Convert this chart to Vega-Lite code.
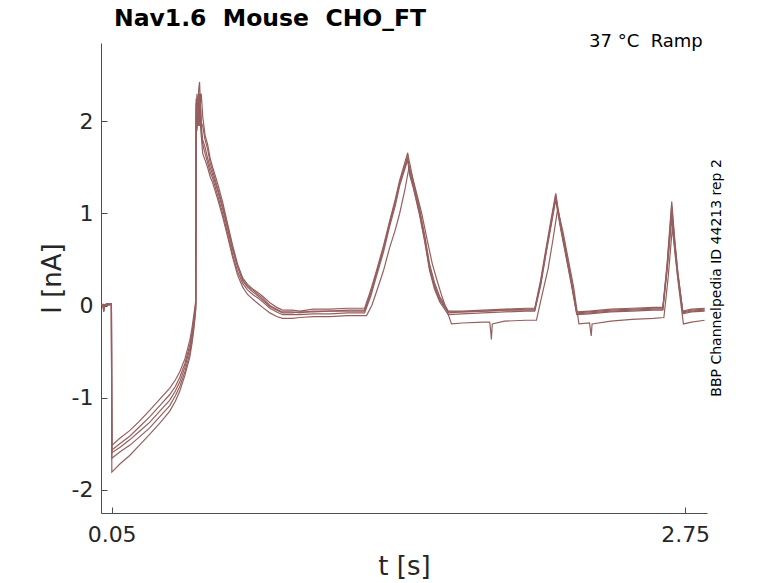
{
  "$schema": "https://vega.github.io/schema/vega-lite/v6.json",
  "width": 606,
  "height": 470,
  "autosize": "none",
  "padding": {"left": 101, "top": 43, "right": 71, "bottom": 70},
  "background": "white",
  "config": {"view": {"stroke": null}, "font": "DejaVu Sans"},
  "title": {
    "text": "Nav1.6\u00a0 Mouse\u00a0 CHO_FT",
    "anchor": "start",
    "frame": "group",
    "dx": 13,
    "offset": -17,
    "baseline": "alphabetic",
    "fontSize": 23.5,
    "fontWeight": "bold",
    "color": "#000000"
  },
  "layer": [
    {
      "data": {"values": [
        {"s":"A","t":0.003,"I":0.01},{"s":"A","t":0.010,"I":-0.01},{"s":"A","t":0.013,"I":-0.05},{"s":"A","t":0.016,"I":0.01},{"s":"A","t":0.030,"I":0.02},{"s":"A","t":0.049,"I":0.02},
        {"s":"A","t":0.051,"I":-1.52},{"s":"A","t":0.090,"I":-1.44},{"s":"A","t":0.135,"I":-1.36},{"s":"A","t":0.180,"I":-1.26},{"s":"A","t":0.229,"I":-1.14},{"s":"A","t":0.280,"I":-1.01},{"s":"A","t":0.323,"I":-0.90},{"s":"A","t":0.350,"I":-0.81},{"s":"A","t":0.371,"I":-0.72},{"s":"A","t":0.395,"I":-0.58},{"s":"A","t":0.418,"I":-0.38},{"s":"A","t":0.428,"I":-0.25},{"s":"A","t":0.436,"I":-0.12},{"s":"A","t":0.442,"I":-0.02},{"s":"A","t":0.446,"I":0.05},
        {"s":"A","t":0.448,"I":2.05},{"s":"A","t":0.452,"I":1.9},{"s":"A","t":0.455,"I":2.0},{"s":"A","t":0.460,"I":2.2},{"s":"A","t":0.465,"I":1.95},{"s":"A","t":0.469,"I":2.15},{"s":"A","t":0.474,"I":1.9},{"s":"A","t":0.479,"I":1.8},{"s":"A","t":0.490,"I":1.72},{"s":"A","t":0.502,"I":1.6},{"s":"A","t":0.514,"I":1.5},{"s":"A","t":0.526,"I":1.42},{"s":"A","t":0.550,"I":1.24},{"s":"A","t":0.573,"I":1.05},{"s":"A","t":0.597,"I":0.82},{"s":"A","t":0.620,"I":0.6},{"s":"A","t":0.643,"I":0.42},{"s":"A","t":0.667,"I":0.28},{"s":"A","t":0.690,"I":0.21},{"s":"A","t":0.714,"I":0.17},{"s":"A","t":0.740,"I":0.12},{"s":"A","t":0.761,"I":0.08},{"s":"A","t":0.795,"I":0.0},{"s":"A","t":0.827,"I":-0.04},{"s":"A","t":0.855,"I":-0.07},{"s":"A","t":0.900,"I":-0.07},{"s":"A","t":0.935,"I":-0.08},{"s":"A","t":1.000,"I":-0.06},{"s":"A","t":1.077,"I":-0.06},{"s":"A","t":1.160,"I":-0.05},{"s":"A","t":1.241,"I":-0.05},
        {"s":"A","t":1.270,"I":0.14},{"s":"A","t":1.297,"I":0.35},{"s":"A","t":1.330,"I":0.62},{"s":"A","t":1.359,"I":0.89},{"s":"A","t":1.385,"I":1.12},{"s":"A","t":1.406,"I":1.33},{"s":"A","t":1.430,"I":1.52},{"s":"A","t":1.444,"I":1.62},{"s":"A","t":1.453,"I":1.45},{"s":"A","t":1.470,"I":1.3},{"s":"A","t":1.500,"I":1.0},{"s":"A","t":1.525,"I":0.7},{"s":"A","t":1.547,"I":0.4},{"s":"A","t":1.570,"I":0.2},{"s":"A","t":1.594,"I":0.06},{"s":"A","t":1.635,"I":-0.08},{"s":"A","t":1.700,"I":-0.07},{"s":"A","t":1.800,"I":-0.06},{"s":"A","t":1.900,"I":-0.05},{"s":"A","t":2.000,"I":-0.04},{"s":"A","t":2.042,"I":-0.04},
        {"s":"A","t":2.070,"I":0.25},{"s":"A","t":2.098,"I":0.63},{"s":"A","t":2.120,"I":0.92},{"s":"A","t":2.141,"I":1.2},{"s":"A","t":2.150,"I":1.05},{"s":"A","t":2.165,"I":0.85},{"s":"A","t":2.190,"I":0.55},{"s":"A","t":2.215,"I":0.25},{"s":"A","t":2.240,"I":-0.08},{"s":"A","t":2.300,"I":-0.07},{"s":"A","t":2.400,"I":-0.05},{"s":"A","t":2.500,"I":-0.04},{"s":"A","t":2.600,"I":-0.03},{"s":"A","t":2.645,"I":-0.03},
        {"s":"A","t":2.665,"I":0.45},{"s":"A","t":2.687,"I":1.13},{"s":"A","t":2.700,"I":0.75},{"s":"A","t":2.715,"I":0.38},{"s":"A","t":2.739,"I":-0.07},{"s":"A","t":2.780,"I":-0.05},{"s":"A","t":2.842,"I":-0.04},

        {"s":"B","t":0.003,"I":0.0},{"s":"B","t":0.010,"I":0.0},{"s":"B","t":0.013,"I":-0.07},{"s":"B","t":0.016,"I":0.0},{"s":"B","t":0.030,"I":0.01},{"s":"B","t":0.049,"I":0.01},
        {"s":"B","t":0.051,"I":-1.57},{"s":"B","t":0.090,"I":-1.50},{"s":"B","t":0.135,"I":-1.42},{"s":"B","t":0.180,"I":-1.32},{"s":"B","t":0.229,"I":-1.21},{"s":"B","t":0.280,"I":-1.08},{"s":"B","t":0.323,"I":-0.97},{"s":"B","t":0.350,"I":-0.88},{"s":"B","t":0.371,"I":-0.78},{"s":"B","t":0.395,"I":-0.63},{"s":"B","t":0.418,"I":-0.43},{"s":"B","t":0.428,"I":-0.30},{"s":"B","t":0.436,"I":-0.16},{"s":"B","t":0.442,"I":-0.06},{"s":"B","t":0.446,"I":0.02},
        {"s":"B","t":0.448,"I":2.15},{"s":"B","t":0.452,"I":2.3},{"s":"B","t":0.456,"I":2.1},{"s":"B","t":0.460,"I":2.35},{"s":"B","t":0.464,"I":2.43},{"s":"B","t":0.468,"I":2.2},{"s":"B","t":0.472,"I":2.3},{"s":"B","t":0.479,"I":2.05},{"s":"B","t":0.490,"I":1.85},{"s":"B","t":0.502,"I":1.75},{"s":"B","t":0.514,"I":1.6},{"s":"B","t":0.526,"I":1.5},{"s":"B","t":0.550,"I":1.32},{"s":"B","t":0.573,"I":1.12},{"s":"B","t":0.597,"I":0.88},{"s":"B","t":0.620,"I":0.65},{"s":"B","t":0.643,"I":0.45},{"s":"B","t":0.667,"I":0.30},{"s":"B","t":0.690,"I":0.23},{"s":"B","t":0.714,"I":0.18},{"s":"B","t":0.740,"I":0.14},{"s":"B","t":0.761,"I":0.10},{"s":"B","t":0.795,"I":0.03},{"s":"B","t":0.827,"I":-0.02},{"s":"B","t":0.855,"I":-0.05},{"s":"B","t":0.900,"I":-0.05},{"s":"B","t":0.935,"I":-0.06},{"s":"B","t":1.000,"I":-0.04},{"s":"B","t":1.077,"I":-0.04},{"s":"B","t":1.160,"I":-0.03},{"s":"B","t":1.241,"I":-0.03},
        {"s":"B","t":1.270,"I":0.17},{"s":"B","t":1.297,"I":0.38},{"s":"B","t":1.330,"I":0.65},{"s":"B","t":1.359,"I":0.92},{"s":"B","t":1.385,"I":1.15},{"s":"B","t":1.406,"I":1.36},{"s":"B","t":1.430,"I":1.55},{"s":"B","t":1.444,"I":1.66},{"s":"B","t":1.450,"I":1.58},{"s":"B","t":1.456,"I":1.52},{"s":"B","t":1.470,"I":1.35},{"s":"B","t":1.500,"I":1.05},{"s":"B","t":1.525,"I":0.75},{"s":"B","t":1.547,"I":0.45},{"s":"B","t":1.570,"I":0.25},{"s":"B","t":1.594,"I":0.10},{"s":"B","t":1.635,"I":-0.06},{"s":"B","t":1.700,"I":-0.06},{"s":"B","t":1.800,"I":-0.05},{"s":"B","t":1.900,"I":-0.04},{"s":"B","t":2.000,"I":-0.03},{"s":"B","t":2.042,"I":-0.03},
        {"s":"B","t":2.070,"I":0.28},{"s":"B","t":2.098,"I":0.66},{"s":"B","t":2.120,"I":0.95},{"s":"B","t":2.141,"I":1.22},{"s":"B","t":2.150,"I":1.08},{"s":"B","t":2.165,"I":0.88},{"s":"B","t":2.190,"I":0.58},{"s":"B","t":2.215,"I":0.28},{"s":"B","t":2.240,"I":-0.07},{"s":"B","t":2.300,"I":-0.06},{"s":"B","t":2.400,"I":-0.04},{"s":"B","t":2.500,"I":-0.03},{"s":"B","t":2.600,"I":-0.02},{"s":"B","t":2.645,"I":-0.02},
        {"s":"B","t":2.665,"I":0.42},{"s":"B","t":2.687,"I":1.08},{"s":"B","t":2.700,"I":0.72},{"s":"B","t":2.715,"I":0.36},{"s":"B","t":2.739,"I":-0.06},{"s":"B","t":2.780,"I":-0.04},{"s":"B","t":2.842,"I":-0.03},

        {"s":"C","t":0.003,"I":0.02},{"s":"C","t":0.011,"I":0.0},{"s":"C","t":0.014,"I":-0.04},{"s":"C","t":0.018,"I":0.01},{"s":"C","t":0.030,"I":0.02},{"s":"C","t":0.049,"I":0.02},
        {"s":"C","t":0.051,"I":-1.60},{"s":"C","t":0.090,"I":-1.54},{"s":"C","t":0.135,"I":-1.46},{"s":"C","t":0.180,"I":-1.37},{"s":"C","t":0.229,"I":-1.27},{"s":"C","t":0.280,"I":-1.14},{"s":"C","t":0.323,"I":-1.03},{"s":"C","t":0.350,"I":-0.93},{"s":"C","t":0.371,"I":-0.83},{"s":"C","t":0.395,"I":-0.67},{"s":"C","t":0.418,"I":-0.47},{"s":"C","t":0.428,"I":-0.34},{"s":"C","t":0.436,"I":-0.20},{"s":"C","t":0.442,"I":-0.09},{"s":"C","t":0.446,"I":0.0},
        {"s":"C","t":0.448,"I":2.25},{"s":"C","t":0.452,"I":2.05},{"s":"C","t":0.456,"I":2.15},{"s":"C","t":0.460,"I":1.95},{"s":"C","t":0.465,"I":2.3},{"s":"C","t":0.469,"I":2.1},{"s":"C","t":0.474,"I":1.85},{"s":"C","t":0.479,"I":1.75},{"s":"C","t":0.490,"I":1.65},{"s":"C","t":0.502,"I":1.55},{"s":"C","t":0.514,"I":1.45},{"s":"C","t":0.526,"I":1.38},{"s":"C","t":0.550,"I":1.19},{"s":"C","t":0.573,"I":1.0},{"s":"C","t":0.597,"I":0.77},{"s":"C","t":0.620,"I":0.55},{"s":"C","t":0.643,"I":0.37},{"s":"C","t":0.667,"I":0.24},{"s":"C","t":0.690,"I":0.17},{"s":"C","t":0.714,"I":0.12},{"s":"C","t":0.740,"I":0.08},{"s":"C","t":0.761,"I":0.04},{"s":"C","t":0.795,"I":-0.03},{"s":"C","t":0.827,"I":-0.07},{"s":"C","t":0.855,"I":-0.10},{"s":"C","t":0.900,"I":-0.10},{"s":"C","t":0.935,"I":-0.10},{"s":"C","t":1.000,"I":-0.09},{"s":"C","t":1.077,"I":-0.09},{"s":"C","t":1.160,"I":-0.08},{"s":"C","t":1.241,"I":-0.08},
        {"s":"C","t":1.270,"I":0.1},{"s":"C","t":1.297,"I":0.32},{"s":"C","t":1.330,"I":0.58},{"s":"C","t":1.359,"I":0.86},{"s":"C","t":1.385,"I":1.08},{"s":"C","t":1.406,"I":1.30},{"s":"C","t":1.430,"I":1.48},{"s":"C","t":1.444,"I":1.58},{"s":"C","t":1.453,"I":1.42},{"s":"C","t":1.470,"I":1.28},{"s":"C","t":1.500,"I":0.98},{"s":"C","t":1.525,"I":0.68},{"s":"C","t":1.547,"I":0.38},{"s":"C","t":1.570,"I":0.18},{"s":"C","t":1.594,"I":0.04},{"s":"C","t":1.635,"I":-0.10},{"s":"C","t":1.700,"I":-0.09},{"s":"C","t":1.800,"I":-0.08},{"s":"C","t":1.900,"I":-0.07},{"s":"C","t":2.000,"I":-0.06},{"s":"C","t":2.042,"I":-0.06},
        {"s":"C","t":2.070,"I":0.22},{"s":"C","t":2.098,"I":0.6},{"s":"C","t":2.120,"I":0.88},{"s":"C","t":2.141,"I":1.15},{"s":"C","t":2.150,"I":1.02},{"s":"C","t":2.165,"I":0.82},{"s":"C","t":2.190,"I":0.52},{"s":"C","t":2.215,"I":0.22},{"s":"C","t":2.240,"I":-0.10},{"s":"C","t":2.300,"I":-0.09},{"s":"C","t":2.400,"I":-0.07},{"s":"C","t":2.500,"I":-0.06},{"s":"C","t":2.600,"I":-0.05},{"s":"C","t":2.645,"I":-0.05},
        {"s":"C","t":2.665,"I":0.38},{"s":"C","t":2.687,"I":0.95},{"s":"C","t":2.700,"I":0.65},{"s":"C","t":2.715,"I":0.32},{"s":"C","t":2.739,"I":-0.09},{"s":"C","t":2.780,"I":-0.07},{"s":"C","t":2.842,"I":-0.06},

        {"s":"D","t":0.003,"I":0.01},{"s":"D","t":0.010,"I":0.01},{"s":"D","t":0.012,"I":-0.05},{"s":"D","t":0.016,"I":0.0},{"s":"D","t":0.030,"I":0.01},{"s":"D","t":0.049,"I":0.02},
        {"s":"D","t":0.051,"I":-1.66},{"s":"D","t":0.090,"I":-1.59},{"s":"D","t":0.135,"I":-1.52},{"s":"D","t":0.180,"I":-1.43},{"s":"D","t":0.229,"I":-1.33},{"s":"D","t":0.280,"I":-1.20},{"s":"D","t":0.323,"I":-1.09},{"s":"D","t":0.350,"I":-0.98},{"s":"D","t":0.371,"I":-0.88},{"s":"D","t":0.395,"I":-0.72},{"s":"D","t":0.418,"I":-0.52},{"s":"D","t":0.428,"I":-0.38},{"s":"D","t":0.436,"I":-0.24},{"s":"D","t":0.442,"I":-0.12},{"s":"D","t":0.446,"I":-0.02},
        {"s":"D","t":0.448,"I":2.2},{"s":"D","t":0.452,"I":2.0},{"s":"D","t":0.456,"I":2.25},{"s":"D","t":0.460,"I":2.05},{"s":"D","t":0.465,"I":2.3},{"s":"D","t":0.470,"I":2.0},{"s":"D","t":0.479,"I":1.95},{"s":"D","t":0.490,"I":1.8},{"s":"D","t":0.502,"I":1.7},{"s":"D","t":0.514,"I":1.55},{"s":"D","t":0.526,"I":1.46},{"s":"D","t":0.550,"I":1.27},{"s":"D","t":0.573,"I":1.08},{"s":"D","t":0.597,"I":0.85},{"s":"D","t":0.620,"I":0.62},{"s":"D","t":0.643,"I":0.43},{"s":"D","t":0.667,"I":0.27},{"s":"D","t":0.690,"I":0.20},{"s":"D","t":0.714,"I":0.15},{"s":"D","t":0.740,"I":0.10},{"s":"D","t":0.761,"I":0.06},{"s":"D","t":0.795,"I":-0.01},{"s":"D","t":0.827,"I":-0.05},{"s":"D","t":0.855,"I":-0.08},{"s":"D","t":0.900,"I":-0.08},{"s":"D","t":0.935,"I":-0.07},{"s":"D","t":1.000,"I":-0.07},{"s":"D","t":1.077,"I":-0.06},{"s":"D","t":1.160,"I":-0.06},{"s":"D","t":1.241,"I":-0.06},
        {"s":"D","t":1.270,"I":0.13},{"s":"D","t":1.297,"I":0.36},{"s":"D","t":1.330,"I":0.62},{"s":"D","t":1.359,"I":0.90},{"s":"D","t":1.385,"I":1.12},{"s":"D","t":1.406,"I":1.34},{"s":"D","t":1.430,"I":1.50},{"s":"D","t":1.444,"I":1.60},{"s":"D","t":1.453,"I":1.48},{"s":"D","t":1.470,"I":1.32},{"s":"D","t":1.500,"I":1.02},{"s":"D","t":1.525,"I":0.72},{"s":"D","t":1.547,"I":0.42},{"s":"D","t":1.570,"I":0.22},{"s":"D","t":1.594,"I":0.08},{"s":"D","t":1.635,"I":-0.07},{"s":"D","t":1.700,"I":-0.07},{"s":"D","t":1.800,"I":-0.06},{"s":"D","t":1.900,"I":-0.05},{"s":"D","t":2.000,"I":-0.05},{"s":"D","t":2.042,"I":-0.05},
        {"s":"D","t":2.070,"I":0.24},{"s":"D","t":2.098,"I":0.62},{"s":"D","t":2.120,"I":0.9},{"s":"D","t":2.141,"I":1.18},{"s":"D","t":2.150,"I":1.04},{"s":"D","t":2.165,"I":0.84},{"s":"D","t":2.190,"I":0.54},{"s":"D","t":2.215,"I":0.24},{"s":"D","t":2.240,"I":-0.09},{"s":"D","t":2.300,"I":-0.08},{"s":"D","t":2.400,"I":-0.06},{"s":"D","t":2.500,"I":-0.05},{"s":"D","t":2.600,"I":-0.04},{"s":"D","t":2.645,"I":-0.04},
        {"s":"D","t":2.665,"I":0.4},{"s":"D","t":2.687,"I":1.0},{"s":"D","t":2.700,"I":0.68},{"s":"D","t":2.715,"I":0.34},{"s":"D","t":2.739,"I":-0.08},{"s":"D","t":2.780,"I":-0.06},{"s":"D","t":2.842,"I":-0.05},

        {"s":"E","t":0.003,"I":0.0},{"s":"E","t":0.010,"I":0.01},{"s":"E","t":0.013,"I":-0.06},{"s":"E","t":0.017,"I":0.0},{"s":"E","t":0.030,"I":0.0},{"s":"E","t":0.049,"I":0.01},
        {"s":"E","t":0.051,"I":-1.81},{"s":"E","t":0.090,"I":-1.72},{"s":"E","t":0.135,"I":-1.63},{"s":"E","t":0.180,"I":-1.52},{"s":"E","t":0.229,"I":-1.40},{"s":"E","t":0.280,"I":-1.27},{"s":"E","t":0.323,"I":-1.15},{"s":"E","t":0.350,"I":-1.04},{"s":"E","t":0.371,"I":-0.93},{"s":"E","t":0.395,"I":-0.76},{"s":"E","t":0.418,"I":-0.56},{"s":"E","t":0.428,"I":-0.42},{"s":"E","t":0.436,"I":-0.28},{"s":"E","t":0.442,"I":-0.15},{"s":"E","t":0.446,"I":-0.05},
        {"s":"E","t":0.448,"I":2.1},{"s":"E","t":0.452,"I":2.2},{"s":"E","t":0.456,"I":1.95},{"s":"E","t":0.460,"I":2.15},{"s":"E","t":0.465,"I":2.05},{"s":"E","t":0.470,"I":1.9},{"s":"E","t":0.479,"I":1.65},{"s":"E","t":0.490,"I":1.58},{"s":"E","t":0.502,"I":1.5},{"s":"E","t":0.514,"I":1.4},{"s":"E","t":0.526,"I":1.33},{"s":"E","t":0.550,"I":1.15},{"s":"E","t":0.573,"I":0.96},{"s":"E","t":0.597,"I":0.74},{"s":"E","t":0.620,"I":0.52},{"s":"E","t":0.643,"I":0.33},{"s":"E","t":0.667,"I":0.20},{"s":"E","t":0.690,"I":0.12},{"s":"E","t":0.714,"I":0.07},{"s":"E","t":0.740,"I":0.02},{"s":"E","t":0.761,"I":-0.02},{"s":"E","t":0.795,"I":-0.08},{"s":"E","t":0.827,"I":-0.12},{"s":"E","t":0.855,"I":-0.14},{"s":"E","t":0.900,"I":-0.14},{"s":"E","t":0.935,"I":-0.13},{"s":"E","t":1.000,"I":-0.12},{"s":"E","t":1.077,"I":-0.12},{"s":"E","t":1.160,"I":-0.11},{"s":"E","t":1.250,"I":-0.11},
        {"s":"E","t":1.275,"I":0.0},{"s":"E","t":1.297,"I":0.15},{"s":"E","t":1.330,"I":0.38},{"s":"E","t":1.359,"I":0.63},{"s":"E","t":1.385,"I":0.82},{"s":"E","t":1.406,"I":1.0},{"s":"E","t":1.430,"I":1.25},{"s":"E","t":1.450,"I":1.5},{"s":"E","t":1.460,"I":1.45},{"s":"E","t":1.475,"I":1.32},{"s":"E","t":1.510,"I":1.0},{"s":"E","t":1.535,"I":0.72},{"s":"E","t":1.560,"I":0.45},{"s":"E","t":1.585,"I":0.25},{"s":"E","t":1.605,"I":0.1},{"s":"E","t":1.650,"I":-0.20},{"s":"E","t":1.700,"I":-0.19},{"s":"E","t":1.800,"I":-0.18},{"s":"E","t":1.830,"I":-0.18},{"s":"E","t":1.834,"I":-0.26},{"s":"E","t":1.838,"I":-0.37},{"s":"E","t":1.842,"I":-0.20},{"s":"E","t":1.900,"I":-0.17},{"s":"E","t":2.000,"I":-0.16},{"s":"E","t":2.050,"I":-0.16},
        {"s":"E","t":2.075,"I":0.1},{"s":"E","t":2.105,"I":0.4},{"s":"E","t":2.128,"I":0.72},{"s":"E","t":2.150,"I":1.05},{"s":"E","t":2.160,"I":0.95},{"s":"E","t":2.175,"I":0.8},{"s":"E","t":2.200,"I":0.5},{"s":"E","t":2.225,"I":0.2},{"s":"E","t":2.250,"I":-0.20},{"s":"E","t":2.300,"I":-0.19},{"s":"E","t":2.304,"I":-0.26},{"s":"E","t":2.308,"I":-0.33},{"s":"E","t":2.312,"I":-0.20},{"s":"E","t":2.400,"I":-0.17},{"s":"E","t":2.500,"I":-0.15},{"s":"E","t":2.600,"I":-0.14},{"s":"E","t":2.650,"I":-0.13},
        {"s":"E","t":2.670,"I":0.3},{"s":"E","t":2.690,"I":0.85},{"s":"E","t":2.703,"I":0.55},{"s":"E","t":2.720,"I":0.2},{"s":"E","t":2.742,"I":-0.20},{"s":"E","t":2.780,"I":-0.18},{"s":"E","t":2.842,"I":-0.16}
      ]},
      "mark": {"type": "line", "color": "#965f5f", "strokeWidth": 1.2, "clip": true},
      "encoding": {
        "x": {
          "field": "t",
          "type": "quantitative",
          "scale": {"domain": [0, 2.853], "nice": false, "zero": false},
          "axis": {
            "values": [0.05, 2.75],
            "format": ".2f",
            "title": "t [s]",
            "titleFontSize": 26,
            "titleFontWeight": "normal",
            "titleColor": "#262626",
            "titlePadding": 8,
            "labelFontSize": 22,
            "labelColor": "#262626",
            "labelPadding": 17,
            "domainColor": "#4d4d4d",
            "tickColor": "#4d4d4d",
            "tickSize": -6,
            "grid": false
          }
        },
        "y": {
          "field": "I",
          "type": "quantitative",
          "scale": {"domain": [-2.255, 2.853], "nice": false, "zero": false},
          "axis": {
            "values": [-2, -1, 0, 1, 2],
            "format": "d",
            "labelExpr": "replace(datum.label, '\u2212', '-')",
            "title": "I [nA]",
            "titleFontSize": 26,
            "titleFontWeight": "normal",
            "titleColor": "#262626",
            "titlePadding": 6,
            "labelFontSize": 22,
            "labelColor": "#262626",
            "labelPadding": 14,
            "domainColor": "#4d4d4d",
            "tickColor": "#4d4d4d",
            "tickSize": -6,
            "grid": false
          }
        },
        "detail": {"field": "s"}
      }
    },
    {
      "data": {"values": [{"label": "37 °C\u00a0 Ramp", "t": 2.833, "I": 2.81}]},
      "mark": {"type": "text", "align": "right", "baseline": "alphabetic", "fontSize": 18, "color": "#000000"},
      "encoding": {
        "x": {"field": "t", "type": "quantitative"},
        "y": {"field": "I", "type": "quantitative"},
        "text": {"field": "label"}
      }
    },
    {
      "data": {"values": [{"label": "BBP Channelpedia ID 44213 rep 2", "t": 2.899, "I": 0.30}]},
      "mark": {"type": "text", "angle": 270, "align": "center", "baseline": "middle", "fontSize": 14, "color": "#000000"},
      "encoding": {
        "x": {"field": "t", "type": "quantitative"},
        "y": {"field": "I", "type": "quantitative"},
        "text": {"field": "label"}
      }
    }
  ]
}
